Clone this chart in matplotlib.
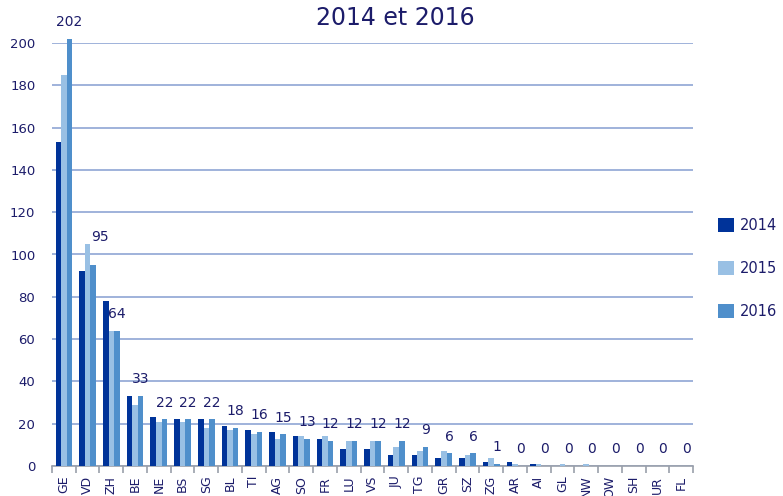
import matplotlib
matplotlib.use("Agg")
import matplotlib.pyplot as plt
import numpy as np

categories = ["GE", "VD", "ZH", "BE", "NE", "BS", "SG", "BL", "TI", "AG", "SO", "FR", "LU", "VS",
              "JU", "TG", "GR", "SZ", "ZG", "AR", "AI", "GL", "NW", "OW", "SH", "UR", "FL"]
v2014 = [153, 92, 78, 33, 23, 22, 22, 19, 17, 16, 14, 13, 8, 8, 5, 5, 4, 4, 2, 2, 1, 0, 0, 0, 0, 0, 0]
v2015 = [185, 105, 64, 29, 21, 21, 18, 17, 15, 13, 14, 14, 12, 12, 9, 7, 7, 5, 4, 1, 1, 1, 1, 0, 0, 0, 0]
v2016 = [202, 95, 64, 33, 22, 22, 22, 18, 16, 15, 13, 12, 12, 12, 12, 9, 6, 6, 1, 0, 0, 0, 0, 0, 0, 0, 0]
series = ["2014", "2015", "2016"]
yticks = [0, 20, 40, 60, 80, 100, 120, 140, 160, 180, 200]

colors = ["#003399", "#99C0E4", "#4F8FCB"]
txt = "#1C1C6A"

fig = plt.figure(figsize=(7.83, 4.96), dpi=100)
ax = fig.add_axes([52/783, 30/496, (693-52)/783, (466-43)/496])

x = np.arange(len(categories))
w = 0.235
for i, (vals, c, lab) in enumerate(zip([v2014, v2015, v2016], colors, series)):
    ax.bar(x + (i - 1) * w, vals, width=w, color=c, label=lab, zorder=3, clip_on=False)

for xi, v, v15 in zip(x, v2016, v2015):
    if v15 - v > 5:
        # label pushed above the taller neighbouring bar
        ax.annotate(str(v), (xi + w, v15), xytext=(5, 0), textcoords="offset points",
                    ha="center", va="bottom", fontsize=10, color=txt, annotation_clip=False)
    else:
        ax.annotate(str(v), (xi + w, v), xytext=(0, 7), textcoords="offset points",
                    ha="center", va="bottom", fontsize=10, color=txt, annotation_clip=False)

ax.set_xlim(-0.5, len(categories) - 0.5)
ax.set_ylim(0, 200)
ax.set_yticks(yticks)
ax.set_yticklabels([str(t) for t in yticks], fontsize=9.5, color=txt)
ax.yaxis.grid(True, color="#8FA5D4", linewidth=1.2, zorder=0)
ax.tick_params(axis="y", length=0, pad=12)
for s in ["top", "right", "left"]:
    ax.spines[s].set_visible(False)
ax.spines["bottom"].set_color("#9AA0AA")
ax.spines["bottom"].set_linewidth(1.2)

ax.set_xticks(x)
ax.set_xticklabels(categories, rotation=90, fontsize=9, color=txt, va="top")
ax.tick_params(axis="x", length=0, pad=7)
ax.set_xticks(np.arange(-0.5, len(categories)), minor=True)
ax.tick_params(axis="x", which="minor", length=5, color="#9AA0AA", width=1.2)

fig.text(395/783, 1 - 18/496, "2014 et 2016", ha="center", va="center", fontsize=17, color=txt)

leg = fig.legend(loc="upper left", bbox_to_anchor=(705/783, 1 - 205/496), frameon=False,
                 handlelength=1.1, handleheight=1.1, labelspacing=1.9, handletextpad=0.4,
                 fontsize=10.5, labelcolor=txt)

fig.savefig("out.png", dpi=100)
